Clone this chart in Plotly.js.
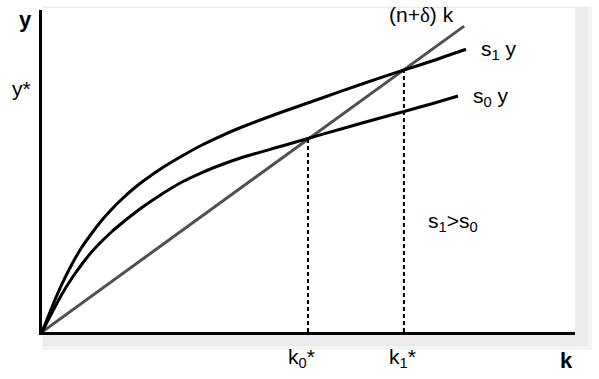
<!DOCTYPE html>
<html>
<head>
<meta charset="utf-8">
<script src="https://cdn.plot.ly/plotly-3.0.1.min.js"></script>
<style>html,body{margin:0;padding:0;background:#fff;}#chart{width:599px;height:379px;}</style>
</head>
<body>
<div id="chart"></div>
<script>
// capital per worker k (arbitrary units) and the two saving curves
const s1K = [0, 1.88, 3.75, 5.63, 7.50, 9.38, 11.26, 13.13, 15.01, 16.89, 18.76, 22.51, 26.27, 30.02, 33.77, 37.52, 45.03, 52.53, 60.04, 67.92, 73.17, 79.55];
const s1Y = [0, 7.76, 14.91, 21.12, 26.40, 30.75, 34.78, 38.20, 41.30, 44.10, 46.58, 50.93, 54.66, 58.07, 61.02, 63.66, 68.32, 72.67, 77.02, 81.37, 84.16, 87.80];
const s0K = [0, 1.88, 3.75, 5.63, 7.50, 9.38, 11.26, 13.13, 15.01, 16.89, 18.76, 22.51, 26.27, 30.02, 33.77, 37.52, 45.03, 49.72, 56.29, 63.79, 67.92, 73.17, 78.05];
const s0Y = [0, 6.06, 11.80, 16.77, 21.12, 25.00, 28.26, 31.21, 33.85, 36.34, 38.66, 42.86, 46.58, 49.53, 52.02, 54.19, 57.76, 60.03, 63.14, 66.61, 68.48, 70.90, 73.29];
// break-even investment line (n+delta) k
const lineK = [0, 79.2];
const lineY = [0, 95.0];
// steady states k0*, k1*
const kStar = [49.9, 67.9];
const yStar = [59.9, 81.5];

const FONT = '"Liberation Sans", Arial, sans-serif';

const traces = [
  {x: lineK, y: lineY, mode: 'lines', line: {color: '#505050', width: 3}},
  {x: s0K, y: s0Y, mode: 'lines', line: {color: '#000', width: 3, shape: 'spline', smoothing: 0.8}},
  {x: s1K, y: s1Y, mode: 'lines', line: {color: '#000', width: 3, shape: 'spline', smoothing: 0.8}},
];
kStar.forEach((k, i) => {
  traces.push({x: [k, k], y: [0, yStar[i]], mode: 'lines', line: {color: '#000', width: 2, dash: '4px,3px'}});
});

// plot area: px 42..575 horizontally, 10..332 vertically
function px(x) { return (x - 42) / 533; }
function py(y) { return (332 - y) / 322; }

function ann(text, x, y, size, bold) {
  return {
    text: bold ? '<b>' + text + '</b>' : text,
    xref: 'paper', yref: 'paper', x: px(x), y: py(y),
    xanchor: 'center', yanchor: 'middle', showarrow: false,
    font: {family: FONT, size: size, color: '#000'}
  };
}

const layout = {
  width: 599, height: 379,
  margin: {l: 42, r: 24, t: 10, b: 47},
  paper_bgcolor: '#fff',
  plot_bgcolor: 'rgba(0,0,0,0)',
  showlegend: false,
  hovermode: false,
  xaxis: {range: [0, 100], showgrid: false, zeroline: false, showticklabels: false, ticks: '',
          showline: true, linecolor: '#000', linewidth: 3},
  yaxis: {range: [0, 100], showgrid: false, zeroline: false, showticklabels: false, ticks: '',
          showline: true, linecolor: '#000', linewidth: 3},
  shapes: [
    {type: 'rect', xref: 'paper', yref: 'paper', layer: 'below', x0: px(42), x1: px(592), y0: py(350), y1: py(6),
     fillcolor: '#f5f5f5', line: {width: 0}},
    {type: 'rect', xref: 'paper', yref: 'paper', layer: 'below', x0: px(43), x1: px(588), y0: py(346), y1: py(7),
     fillcolor: '#ebebeb', line: {width: 0}},
    {type: 'rect', xref: 'paper', yref: 'paper', layer: 'below', x0: px(42), x1: px(575), y0: py(332), y1: py(8),
     fillcolor: '#ffffff', line: {width: 0}}
  ],
  annotations: [
    ann('y', 25, 20, 22, true),
    ann('y*', 22, 88, 21, false),
    ann('(n+<span style="font-family:\'Liberation Serif\', serif">δ</span>) k', 421, 15, 21, false),
    ann('s<sub>1</sub> y', 499, 50, 21, false),
    ann('s<sub>0</sub> y', 491, 97, 21, false),
    ann('s<sub>1</sub>&gt;s<sub>0</sub>', 453, 222, 21, false),
    ann('k<sub>0</sub>*', 301, 358, 21, false),
    ann('k<sub>1</sub>*', 402, 358, 21, false),
    ann('k', 566, 360, 22, true)
  ]
};

Plotly.newPlot('chart', traces, layout, {staticPlot: true, displayModeBar: false});
</script>
</body>
</html>
